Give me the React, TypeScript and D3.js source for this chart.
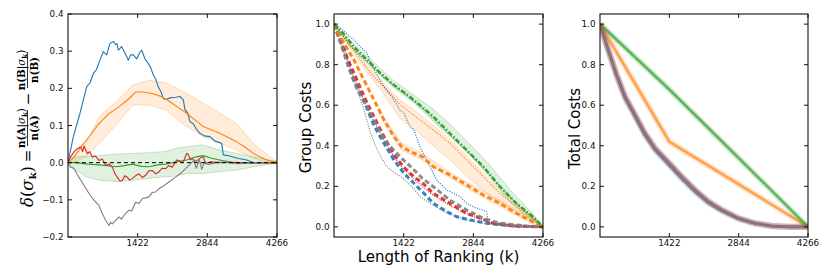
import React from 'react';
import * as d3 from 'd3';

type Pt = [number, number];

// ---- axes ----
const kTicks = [1422, 2844, 4266];
const deltaTicks = [-0.2, -0.1, 0, 0.1, 0.2, 0.3, 0.4];
const costTicks = [0, 0.2, 0.4, 0.6, 0.8, 1.0];

// ---- left panel: delta(sigma_k) ----
const deltaBlue: Pt[] = [[0,0],[109,0.07],[245,0.133],[381,0.204],[450,0.215],[517,0.24],[580,0.25],[653,0.276],[721,0.299],[789,0.29],[857,0.321],[925,0.326],[970,0.318],[1000,0.32],[1027,0.303],[1096,0.312],[1160,0.296],[1231,0.276],[1280,0.29],[1333,0.29],[1401,0.279],[1460,0.295],[1504,0.303],[1571,0.279],[1639,0.267],[1690,0.255],[1741,0.236],[1790,0.225],[1843,0.204],[1900,0.19],[1945,0.173],[2000,0.17],[2100,0.175],[2200,0.176],[2286,0.178],[2354,0.169],[2388,0.142],[2440,0.135],[2490,0.11],[2560,0.105],[2620,0.09],[2694,0.079],[2780,0.072],[2898,0.07],[3000,0.058],[3137,0.052],[3170,0.021],[3300,0.018],[3480,0.011],[3647,0.007],[3800,0],[4266,0]];
const deltaOrange: Pt[] = [[0,0],[122,0.015],[258,0.042],[428,0.069],[632,0.105],[836,0.132],[1040,0.15],[1244,0.172],[1380,0.19],[1516,0.19],[1720,0.186],[1924,0.177],[2081,0.164],[2250,0.148],[2421,0.133],[2590,0.115],[2761,0.097],[2930,0.088],[3101,0.079],[3270,0.068],[3441,0.056],[3610,0.042],[3781,0.025],[4053,0.007],[4266,0]];
const deltaOrangeHi: Pt[] = [[0,0],[163,0.025],[367,0.052],[639,0.124],[979,0.164],[1319,0.209],[1659,0.222],[1999,0.215],[2421,0.187],[2761,0.16],[3101,0.133],[3441,0.106],[3781,0.052],[4121,0.016],[4266,0.003]];
const deltaOrangeLo: Pt[] = [[0,0],[163,0.003],[367,0.016],[639,0.052],[979,0.101],[1319,0.155],[1659,0.155],[1999,0.142],[2421,0.097],[2761,0.07],[3101,0.052],[3441,0.034],[3781,0.012],[4121,-0.002],[4266,-0.003]];
const deltaGreen: Pt[] = [[0,0],[163,0],[400,-0.004],[639,-0.006],[979,-0.011],[1150,-0.008],[1319,-0.004],[1500,-0.01],[1659,-0.011],[1830,-0.006],[1999,-0.004],[2200,0.002],[2421,0.007],[2600,0.015],[2761,0.019],[2930,0.012],[3101,0.007],[3441,-0.002],[3800,0],[4266,0]];
const deltaGreenHi: Pt[] = [[0,0],[163,0.016],[639,0.019],[979,0.023],[1319,0.025],[1659,0.027],[1999,0.03],[2203,0.039],[2421,0.043],[2761,0.048],[3101,0.034],[3441,0.025],[3781,0.016],[4121,0.007],[4266,0.004]];
const deltaGreenLo: Pt[] = [[0,0],[163,-0.02],[367,-0.038],[639,-0.047],[979,-0.051],[1319,-0.048],[1659,-0.042],[1999,-0.038],[2203,-0.036],[2421,-0.029],[2761,-0.029],[3101,-0.024],[3441,-0.02],[3781,-0.011],[4121,-0.004],[4266,-0.003]];
const deltaRed: Pt[] = [[0,0],[54,0.015],[122,0.029],[190,0.038],[258,0.042],[300,0.03],[326,0.045],[394,0.024],[440,0.03],[496,0.015],[560,0.018],[632,0.006],[700,0.01],[768,-0.007],[850,-0.004],[904,-0.012],[960,-0.03],[1006,-0.039],[1060,-0.05],[1108,-0.048],[1160,-0.035],[1210,-0.039],[1260,-0.047],[1312,-0.043],[1380,-0.035],[1448,-0.03],[1520,-0.04],[1584,-0.034],[1650,-0.022],[1720,-0.021],[1790,-0.03],[1856,-0.025],[1920,-0.015],[1992,-0.016],[2060,-0.008],[2128,-0.012],[2217,0.007],[2264,0.006],[2330,0],[2366,0.006],[2422,0.025],[2454,0.022],[2500,0.008],[2536,0.011],[2600,0.004],[2638,0.006],[2706,0.013],[2761,0.016],[2808,-0.003],[2900,0.002],[3100,0],[3400,0.001],[3700,-0.001],[4266,0]];
const deltaGray: Pt[] = [[0,0],[54,-0.012],[122,-0.016],[224,-0.039],[326,-0.061],[428,-0.083],[530,-0.101],[632,-0.115],[700,-0.137],[768,-0.155],[836,-0.169],[870,-0.16],[904,-0.165],[972,-0.155],[1040,-0.146],[1090,-0.152],[1142,-0.142],[1244,-0.128],[1300,-0.13],[1380,-0.106],[1450,-0.11],[1516,-0.097],[1652,-0.092],[1720,-0.08],[1788,-0.079],[1856,-0.07],[1924,-0.065],[2060,-0.052],[2196,-0.039],[2332,-0.025],[2468,-0.007],[2570,0.006],[2620,-0.015],[2680,0.008],[2730,-0.018],[2790,0.005],[2850,-0.005],[2944,-0.003],[3080,0.002],[3488,-0.003],[3760,0],[4266,0]];
const zeroLine: Pt[] = [[0,0],[4266,0]];

// ---- middle panel: group costs (A = dashed, B = dotted) ----
const groupBlueA: Pt[] = [[0,1],[102,0.95],[272,0.83],[374,0.74],[476,0.69],[646,0.6],[816,0.5],[1020,0.412],[1224,0.33],[1428,0.264],[1632,0.215],[1802,0.174],[2027,0.116],[2300,0.075],[2504,0.05],[2776,0.034],[3116,0.018],[3660,0.004],[4266,0]];
const groupRedA: Pt[] = [[0,1],[238,0.85],[442,0.74],[646,0.626],[850,0.527],[1054,0.429],[1258,0.346],[1415,0.297],[1619,0.25],[1836,0.21],[2027,0.165],[2367,0.116],[2708,0.066],[2912,0.05],[3252,0.018],[3700,0.004],[4266,0]];
const groupGrayA: Pt[] = [[0,1],[170,0.88],[306,0.78],[476,0.675],[680,0.593],[884,0.494],[1088,0.412],[1347,0.346],[1564,0.297],[1802,0.24],[2027,0.198],[2367,0.132],[2708,0.083],[3048,0.042],[3388,0.018],[3932,0.004],[4266,0]];
const groupOrangeA: Pt[] = [[0,1],[204,0.905],[408,0.823],[612,0.724],[816,0.626],[1020,0.527],[1224,0.445],[1380,0.396],[1564,0.371],[1802,0.346],[2027,0.297],[2367,0.256],[2708,0.207],[3048,0.157],[3388,0.116],[3728,0.066],[4068,0.025],[4266,0]];
const groupOrangeAHi: Pt[] = [[900,0.6],[1020,0.54],[1380,0.415],[1800,0.362],[2367,0.27],[2708,0.222],[3388,0.13],[4068,0.036],[4266,0.004]];
const groupOrangeALo: Pt[] = [[900,0.575],[1020,0.513],[1380,0.378],[1800,0.33],[2367,0.241],[2708,0.192],[3388,0.1],[4068,0.014],[4266,0]];
const groupGreenA: Pt[] = [[0,1],[136,0.97],[408,0.888],[680,0.823],[952,0.757],[1224,0.7],[1496,0.652],[1768,0.598],[2027,0.544],[2367,0.461],[2708,0.379],[3048,0.297],[3388,0.198],[3728,0.115],[4068,0.049],[4266,0]];
const groupGreenHi: Pt[] = [[0,1],[400,0.905],[800,0.815],[1200,0.725],[1600,0.655],[2027,0.58],[2400,0.5],[2800,0.4],[3200,0.3],[3600,0.18],[4000,0.08],[4266,0.004]];
const groupGreenLo: Pt[] = [[0,1],[400,0.87],[800,0.78],[1200,0.69],[1600,0.62],[2027,0.52],[2400,0.44],[2800,0.35],[3200,0.24],[3600,0.12],[4000,0.04],[4266,0]];
const groupBlueB: Pt[] = [[0,1],[136,0.98],[408,0.921],[680,0.855],[748,0.806],[1020,0.691],[1224,0.626],[1347,0.576],[1428,0.56],[1551,0.494],[1632,0.478],[1755,0.395],[1959,0.297],[2096,0.231],[2300,0.182],[2572,0.149],[2708,0.116],[2844,0.099],[3116,0.075],[3150,0.018],[3388,0.015],[3728,0.01],[4266,0]];
const groupRedB: Pt[] = [[0,1],[200,0.86],[400,0.74],[650,0.6],[900,0.48],[1150,0.37],[1400,0.29],[1700,0.22],[2000,0.16],[2400,0.1],[2800,0.055],[3200,0.02],[3700,0.005],[4266,0]];
const groupGrayB: Pt[] = [[0,1],[68,0.97],[204,0.888],[340,0.773],[476,0.675],[612,0.576],[748,0.461],[884,0.379],[1054,0.305],[1156,0.281],[1360,0.248],[1564,0.205],[1755,0.15],[1959,0.116],[2300,0.07],[2700,0.035],[3100,0.015],[3500,0.005],[4266,0]];
const groupOrangeB: Pt[] = [[0,1],[272,0.92],[544,0.823],[816,0.74],[1088,0.675],[1360,0.6],[1632,0.55],[2027,0.478],[2367,0.412],[2708,0.33],[3048,0.248],[3388,0.165],[3728,0.099],[4068,0.041],[4266,0]];
const groupOrangeBHi: Pt[] = [[0,1],[500,0.85],[1000,0.71],[1347,0.625],[1700,0.565],[2027,0.5],[2367,0.43],[2708,0.35],[3048,0.265],[3388,0.18],[3728,0.11],[4068,0.05],[4266,0]];
const groupOrangeBLo: Pt[] = [[0,1],[500,0.82],[1000,0.66],[1347,0.536],[1700,0.47],[2027,0.4],[2367,0.33],[2708,0.25],[3048,0.18],[3388,0.116],[3728,0.07],[4068,0.025],[4266,0]];
const groupGreenB: Pt[] = [[0,1],[300,0.9],[700,0.81],[1100,0.72],[1500,0.645],[1900,0.565],[2300,0.47],[2700,0.375],[3100,0.28],[3500,0.17],[3900,0.075],[4266,0]];

// ---- right panel: total costs ----
const totalBlue: Pt[] = [[0,1],[171,0.868],[342,0.745],[513,0.636],[718,0.545],[923,0.452],[1129,0.378],[1422,0.303],[1676,0.237],[1950,0.172],[2223,0.117],[2497,0.078],[2839,0.04],[3181,0.016],[3523,0.004],[3865,0],[4266,0]];
const totalRed: Pt[] = [[0,1],[171,0.872],[342,0.749],[513,0.642],[718,0.552],[923,0.461],[1129,0.388],[1422,0.314],[1676,0.248],[1950,0.182],[2223,0.125],[2497,0.084],[2839,0.043],[3181,0.018],[3523,0.005],[3865,0],[4266,0]];
const totalGray: Pt[] = [[0,1],[171,0.874],[342,0.752],[513,0.645],[718,0.555],[923,0.464],[1129,0.391],[1422,0.317],[1676,0.251],[1950,0.185],[2223,0.128],[2497,0.086],[2839,0.044],[3181,0.018],[3523,0.005],[3865,0],[4266,0]];
const totalOrange: Pt[] = [[0,1],[1422,0.42],[2133,0.315],[2844,0.21],[3555,0.105],[4266,0]];
const totalGreen: Pt[] = [[0,1],[1422,0.678],[2844,0.34],[4266,0]];

const C = { blue: '#1f77b4', orange: '#ff7f0e', green: '#2ca02c', red: '#d62728', gray: '#7f7f7f' };

const TOP = 14, BOTTOM = 237;
const FONT = "'DejaVu Sans', sans-serif";
const TICK_FS = 8.8;

type Band = { hi: Pt[]; lo: Pt[]; color: string; op?: number };
type Ln = { d: Pt[]; color: string; w: number; dash?: string; op?: number; halo?: boolean };

function Panel(props: { x0: number; x1: number; yDomain: [number, number]; yTicks: number[]; bands: Band[]; lines: Ln[] }) {
  const { x0, x1, yDomain, yTicks, bands, lines } = props;
  const x = d3.scaleLinear().domain([0, 4266]).range([x0, x1]);
  const y = d3.scaleLinear().domain(yDomain).range([BOTTOM, TOP]);
  const line = d3.line<Pt>().x(d => x(d[0])).y(d => y(d[1]));
  const clipId = 'clip' + x0;
  const fmt = d3.format('.1f');
  return (
    <g>
      <defs>
        <clipPath id={clipId}><rect x={x0} y={TOP} width={x1 - x0} height={BOTTOM - TOP} /></clipPath>
      </defs>
      <g clipPath={`url(#${clipId})`}>
        {bands.map((b, i) => {
          const poly = b.hi.map(p => [x(p[0]), y(p[1])]).concat([...b.lo].reverse().map(p => [x(p[0]), y(p[1])]));
          return (
            <g key={'b' + i}>
              <path d={'M' + poly.map(p => p.join(',')).join('L') + 'Z'} fill={b.color} fillOpacity={b.op ?? 0.15} />
              <path d={line(b.hi) || ''} fill="none" stroke={b.color} strokeOpacity={0.3} strokeWidth={0.8} />
              <path d={line(b.lo) || ''} fill="none" stroke={b.color} strokeOpacity={0.3} strokeWidth={0.8} />
            </g>
          );
        })}
        {lines.map((l, i) => (
          <g key={'l' + i}>
            {l.halo && <path d={line(l.d) || ''} fill="none" stroke={l.color} strokeOpacity={0.18} strokeWidth={l.w + 3.5} strokeLinejoin="round" />}
            <path d={line(l.d) || ''} fill="none" stroke={l.color} strokeWidth={l.w} strokeDasharray={l.dash} strokeOpacity={l.op ?? 1} strokeLinejoin="round" />
          </g>
        ))}
      </g>
      <rect x={x0} y={TOP} width={x1 - x0} height={BOTTOM - TOP} fill="none" stroke="#111" strokeWidth={1.1} />
      {yTicks.map(t => (
        <g key={'y' + t}>
          <line x1={x0} x2={x0 + 4} y1={y(t)} y2={y(t)} stroke="#111" />
          <line x1={x1} x2={x1 - 4} y1={y(t)} y2={y(t)} stroke="#111" />
          <text x={x0 - 4.5} y={y(t)} dy="0.35em" textAnchor="end" fontSize={TICK_FS} fontFamily={FONT} fill="#111">{fmt(t)}</text>
        </g>
      ))}
      {kTicks.map(t => (
        <g key={'x' + t}>
          <line x1={x(t)} x2={x(t)} y1={BOTTOM} y2={BOTTOM - 4} stroke="#111" />
          <line x1={x(t)} x2={x(t)} y1={TOP} y2={TOP + 4} stroke="#111" />
          <text x={x(t)} y={245.5} textAnchor="middle" fontSize={TICK_FS} fontFamily={FONT} fill="#111">{t}</text>
        </g>
      ))}
    </g>
  );
}

function DeltaLabel() {
  const serif = "'DejaVu Serif', serif";
  const frac = (cx: number, L: string) => (
    <g>
      <line x1={cx - 18} x2={cx + 18} y1={0} y2={0} stroke="#000" strokeWidth={0.8} />
      <text x={cx} y={-2.5} textAnchor="middle" fontFamily={serif} fontSize={10.3}>
        <tspan fontWeight="bold">n(</tspan><tspan fontWeight="bold">{L}</tspan><tspan>|</tspan><tspan fontStyle="italic">σ</tspan><tspan fontSize={7} fontWeight="bold" dy={2}>k</tspan><tspan dy={-2}>)</tspan>
      </text>
      <text x={cx} y={10} textAnchor="middle" fontFamily={serif} fontSize={10.3} fontWeight="bold">n({L})</text>
    </g>
  );
  return (
    <g transform="translate(27.5,129) rotate(-90)">
      <text x={-78} y={5} fontFamily={serif} fontSize={16.5}>
        <tspan fontStyle="italic">δ</tspan><tspan>(</tspan><tspan fontStyle="italic">σ</tspan><tspan fontSize={10} fontWeight="bold" dy={3}>k</tspan><tspan dy={-3}>)</tspan>
      </text>
      <text x={-27} y={5} textAnchor="middle" fontFamily={serif} fontSize={15}>=</text>
      {frac(1, 'A')}
      <text x={30} y={5} textAnchor="middle" fontFamily={serif} fontSize={15}>−</text>
      {frac(59, 'B')}
    </g>
  );
}

export default function App() {
  return (
    <svg width={830} height={277} style={{ position: 'absolute', left: 0, top: 0, background: '#fff' }}>
      <Panel
        x0={68} x1={277} yDomain={[-0.2, 0.4]} yTicks={deltaTicks}
        bands={[
          { hi: deltaOrangeHi, lo: deltaOrangeLo, color: C.orange },
          { hi: deltaGreenHi, lo: deltaGreenLo, color: C.green },
        ]}
        lines={[
          { d: deltaBlue, color: C.blue, w: 1.1 },
          { d: deltaOrange, color: C.orange, w: 1.1 },
          { d: deltaGreen, color: C.green, w: 1.1 },
          { d: deltaRed, color: C.red, w: 1.1 },
          { d: deltaGray, color: C.gray, w: 1.1 },
          { d: zeroLine, color: '#000', w: 1, dash: '4,3' },
        ]}
      />
      <Panel
        x0={334} x1={543} yDomain={[-0.05, 1.05]} yTicks={costTicks}
        bands={[
          { hi: groupOrangeBHi, lo: groupOrangeBLo, color: C.orange },
          { hi: groupOrangeAHi, lo: groupOrangeALo, color: C.orange },
          { hi: groupGreenHi, lo: groupGreenLo, color: C.green },
        ]}
        lines={[
          { d: groupGrayB, color: C.gray, w: 1.2, dash: '1,1.5' },
          { d: groupBlueB, color: C.blue, w: 1.2, dash: '1,1.5' },
          { d: groupRedB, color: C.red, w: 1.2, dash: '1,1.5' },
          { d: groupOrangeB, color: C.orange, w: 1.3, dash: '1,1.5' },
          { d: groupGreenB, color: C.green, w: 1.3, dash: '1,1.5' },
          { d: groupBlueA, color: C.blue, w: 3, dash: '5,3', op: 0.9 },
          { d: groupRedA, color: C.red, w: 3, dash: '5,3', op: 0.9 },
          { d: groupGrayA, color: C.gray, w: 3, dash: '5,3', op: 0.9 },
          { d: groupOrangeA, color: C.orange, w: 3, dash: '5,3', op: 0.95 },
          { d: groupGreenA, color: C.green, w: 2.5, dash: '5,2,1.5,2', op: 0.95 },
        ]}
      />
      <Panel
        x0={600} x1={808} yDomain={[-0.05, 1.05]} yTicks={costTicks}
        bands={[]}
        lines={[
          { d: totalBlue, color: C.blue, w: 2.8, op: 0.6, halo: true },
          { d: totalOrange, color: C.orange, w: 2.8, op: 0.65, halo: true },
          { d: totalGreen, color: C.green, w: 2.8, op: 0.7, halo: true },
          { d: totalRed, color: C.red, w: 2.8, op: 0.55, halo: true },
          { d: totalGray, color: C.gray, w: 2.8, op: 0.55, halo: true },
        ]}
      />
      <DeltaLabel />
      <text transform="translate(311,127.5) rotate(-90)" textAnchor="middle" fontFamily={FONT} fontSize={15}>Group Costs</text>
      <text transform="translate(580,128.5) rotate(-90)" textAnchor="middle" fontFamily={FONT} fontSize={15}>Total Costs</text>
      <text x={438.5} y={262} textAnchor="middle" fontFamily={FONT} fontSize={15}>Length of Ranking (k)</text>
    </svg>
  );
}
